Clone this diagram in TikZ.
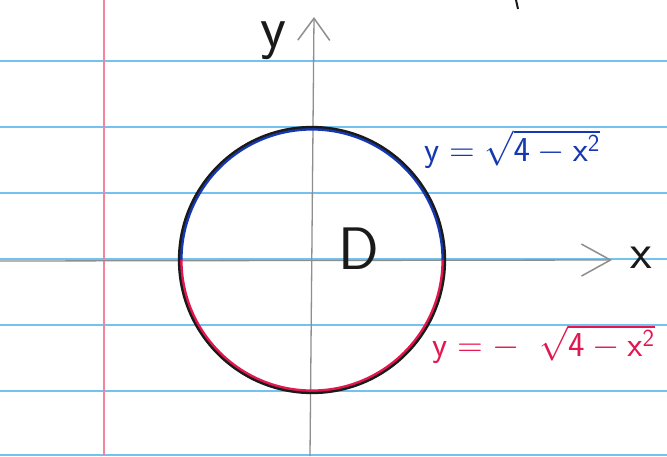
\RequirePackage{fix-cm}
\documentclass[tikz,border=0pt]{standalone}
\usepackage{xcolor}
\definecolor{ink}{HTML}{1A1A1A}
\definecolor{rule}{HTML}{74C2F0}
\definecolor{margin}{HTML}{F2849F}
\definecolor{bluepen}{HTML}{1538B0}
\definecolor{redpen}{HTML}{E3164F}
\definecolor{axisgrey}{HTML}{8E8E8E}
\usetikzlibrary{arrows.meta, positioning}
\tikzset{
  ruled/.style={draw=rule, line width=2.2pt},
  marginline/.style={draw=margin, line width=2.6pt},
  axisline/.style={draw=axisgrey, line width=1.3pt},
  curve/.style={draw=ink, line width=2.3pt},
  tint/.style={line width=3.2pt},
  lbl/.style={text=ink, inner sep=0pt, font=\fontsize{60}{64}\selectfont\sffamily},
  eqn/.style={inner sep=0pt, anchor=west, font=\fontsize{35}{39}\selectfont},
}

\begin{document}
\begin{tikzpicture}[x=1pt, y=-1pt]
  % sheet of ruled paper
  \fill[white] (0,0) rectangle (667,456);
  \useasboundingbox (0,0) rectangle (667,456);
  \foreach \y in {61,127,193,259,325,391,455}
    \draw[ruled] (0,\y) -- (667,\y);
  \draw[marginline] (104,0) -- (104,456);
  \draw[ink, line width=2pt] (516,0) -- (518,9);
  % axes
  \coordinate (O) at (312,260);
  \coordinate (xl) at (0,261);
  \coordinate (xr) at (612,260);
  \coordinate (yb) at (310,456);
  \coordinate (yt) at (314,17);
  \draw[axisline, -{Straight Barb[length=29pt, width=32pt, line width=1.5pt]}] (xl) -- (xr);
  \draw[axisline, -{Straight Barb[length=22pt, width=32pt, line width=1.5pt]}] (yb) -- (yt);
  \node[lbl] (ylab) at (273,41) {y};
  \node[lbl, font=\fontsize{50}{54}\selectfont\sffamily] (xlab) at (641,258) {x};
  % the disk D: upper half blue, lower half red
  \draw[tint, bluepen] (O) ++(-131,0) arc[start angle=180, end angle=360, radius=131];
  \draw[tint, redpen] (O) ++(-131,0) arc[start angle=180, end angle=0, radius=131];
  \draw[curve] (O) circle[radius=133];
  \node[lbl] (D) at (359,249) {D};
  % boundary curves
  \node[eqn, text=bluepen] (upper) at (424,149)
    {$\mathsf{y}=\sqrt{\mathsf{4}-\mathsf{x}^{\mathsf{2}}}$};
  \node[eqn, text=redpen] (lower) at (432,344)
    {$\mathsf{y}=-\;\;\sqrt{\mathsf{4}-\mathsf{x}^{\mathsf{2}}}$};
\end{tikzpicture}
\end{document}
